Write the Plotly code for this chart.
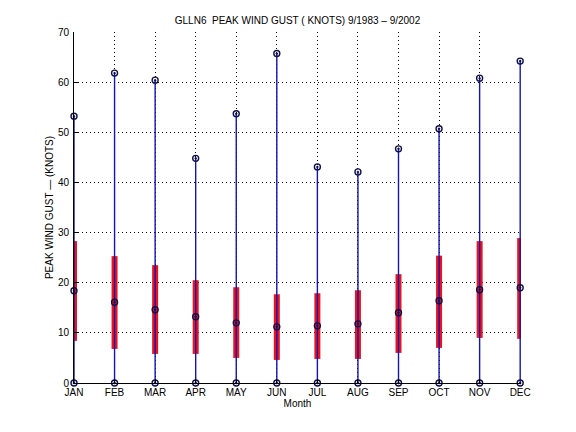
import plotly.graph_objs as go

# monthly peak wind gust stats, GLLN6 9/1983 - 9/2002
months = ["JAN", "FEB", "MAR", "APR", "MAY", "JUN", "JUL", "AUG", "SEP", "OCT", "NOV", "DEC"]
gust_max = [53.2, 61.8, 60.4, 44.8, 53.7, 65.7, 43.1, 42.1, 46.7, 50.7, 60.8, 64.2]
gust_min = [0, 0, 0, 0, 0, 0, 0, 0, 0, 0, 0, 0]
gust_mean = [18.4, 16.1, 14.6, 13.2, 12.0, 11.2, 11.4, 11.8, 14.0, 16.4, 18.6, 19.0]
bar_top = [28.3, 25.3, 23.5, 20.5, 19.1, 17.7, 17.9, 18.5, 21.7, 25.4, 28.3, 28.9]
bar_bottom = [8.4, 6.8, 5.8, 5.8, 5.0, 4.6, 4.8, 4.8, 6.0, 7.0, 9.0, 8.8]

FONT = "Liberation Sans, Arial, Helvetica, sans-serif"

def segments(lo, hi):
    """Build x/y lists of vertical segments separated by None"""
    xs, ys = [], []
    for i in range(len(lo)):
        xs += [i + 1, i + 1, None]
        ys += [lo[i], hi[i], None]
    return xs, ys

pos = list(range(1, len(months) + 1))

wx, wy = segments(gust_min, gust_max)
bx, by = segments(bar_bottom, bar_top)

#red bar first, blue whisker drawn over it
bars = go.Scatter(x=bx, y=by, mode="lines", line=dict(color="#e8141e", width=6),
    showlegend=False, hoverinfo="skip", cliponaxis=False)
whisker = go.Scatter(x=wx, y=wy, mode="lines", line=dict(color="#1414b4", width=1.4),
    showlegend=False, hoverinfo="skip", cliponaxis=False)

markers = []
for vals in (gust_max, gust_mean, gust_min):
    markers.append(go.Scatter(x=pos, y=vals, mode="markers", cliponaxis=False,
        marker=dict(symbol="circle-open-dot", size=6, color="#10104a", line=dict(width=1.4)),
        showlegend=False))

fig = go.Figure(data=[bars, whisker] + markers)

# page body adds an 8px offset, so margins are trimmed by 8 on left/top
fig.update_layout(
    width=576, height=432,
    margin=dict(l=66, r=63, t=24, b=57, autoexpand=False),
    paper_bgcolor="white", plot_bgcolor="white",
    font=dict(family=FONT, size=10, color="black"),
    title=dict(text="GLLN6  PEAK WIND GUST ( KNOTS) 9/1983 \u2013 9/2002",
        x=0.5, xref="paper", xanchor="center", y=1 - 12.5 / 432, yanchor="middle",
        font=dict(size=10)),
    xaxis=dict(
        range=[1, 12.02], tickmode="array", tickvals=pos, ticktext=months,
        showgrid=True, gridcolor="black", griddash="1px,3px", gridwidth=1,
        showline=True, linecolor="black", linewidth=1,
        ticks="inside", ticklen=4, tickcolor="black", zeroline=False,
        automargin=False,
        title=dict(text="Month", standoff=2, font=dict(size=10)),
    ),
    yaxis=dict(
        range=[0, 70], tickmode="linear", tick0=0, dtick=10,
        showgrid=True, gridcolor="black", griddash="1px,3px", gridwidth=1,
        showline=True, linecolor="black", linewidth=1,
        ticks="inside", ticklen=4, tickcolor="black", zeroline=False,
        ticklabelstandoff=2, automargin=False,
        title=dict(text="PEAK WIND GUST \u2014 (KNOTS)", standoff=2, font=dict(size=10)),
    ),
)

fig.write_html("out.html")
